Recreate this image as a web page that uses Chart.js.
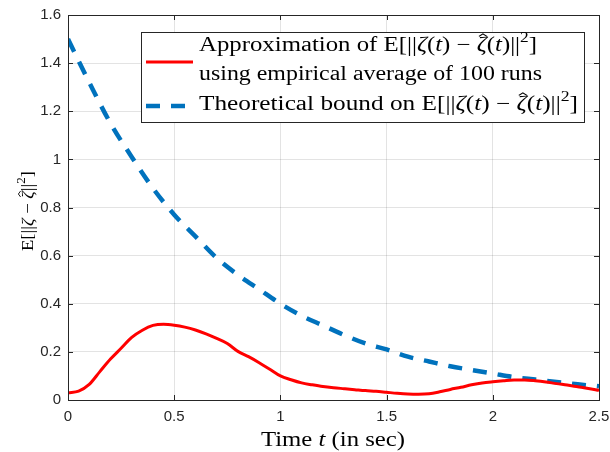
<!DOCTYPE html>
<html>
<head>
<meta charset="utf-8">
<script src="https://cdn.jsdelivr.net/npm/chart.js@4.4.0/dist/chart.umd.min.js"></script>
<style>
  html, body { margin: 0; padding: 0; background: #fff; }
  #wrap { width: 610px; height: 452px; }
</style>
</head>
<body>
<div id="wrap"><canvas id="chart" width="610" height="452"></canvas></div>
<script>
// empirical average of 100 runs (red)
const tEmp = [0, 0.05, 0.1, 0.15, 0.2, 0.25, 0.3, 0.35, 0.4, 0.45, 0.5, 0.55, 0.6, 0.65, 0.7,
  0.75, 0.8, 0.85, 0.9, 0.95, 1, 1.05, 1.1, 1.15, 1.2, 1.25, 1.3, 1.35, 1.4, 1.45, 1.5,
  1.55, 1.6, 1.65, 1.7, 1.75, 1.8, 1.85, 1.9, 1.95, 2, 2.05, 2.1, 2.15, 2.2, 2.25, 2.3,
  2.35, 2.4, 2.45, 2.5];
const empValues = [0.030, 0.037, 0.065, 0.118, 0.170, 0.215, 0.260, 0.290, 0.310, 0.315,
  0.311, 0.303, 0.291, 0.275, 0.256, 0.235, 0.202, 0.180, 0.155, 0.128, 0.100, 0.084,
  0.071, 0.063, 0.056, 0.051, 0.047, 0.043, 0.039, 0.036, 0.032, 0.028, 0.025, 0.024,
  0.026, 0.034, 0.044, 0.053, 0.063, 0.071, 0.076, 0.080, 0.083, 0.083, 0.080, 0.075,
  0.068, 0.062, 0.055, 0.048, 0.040];

// theoretical bound (blue dashed)
const tBound = [0, 0.1, 0.2, 0.3, 0.4, 0.5, 0.6, 0.7, 0.8, 0.9, 1, 1.1, 1.2, 1.3, 1.4,
  1.5, 1.6, 1.7, 1.8, 1.9, 2, 2.1, 2.2, 2.3, 2.4, 2.5];
const boundValues = [1.50, 1.32, 1.15, 1.01, 0.88, 0.77, 0.68, 0.59, 0.52, 0.46, 0.40,
  0.35, 0.31, 0.27, 0.235, 0.21, 0.18, 0.16, 0.14, 0.125, 0.11, 0.095, 0.085, 0.075,
  0.065, 0.057];

const xTicks = [0, 0.5, 1, 1.5, 2, 2.5];
const yTicks = [0, 0.2, 0.4, 0.6, 0.8, 1, 1.2, 1.4, 1.6];

const AXIS = '#262626';
const SERIF = '"Liberation Serif", "Times New Roman", serif';
const fmt = v => String(Number(v.toFixed(2)));

// draw a list of text runs (roman / italic / superscript / hat) with a horizontal stretch
function runFont(r, size) {
  const s = r.sup ? size * 0.7 : size;
  return (r.i ? 'italic ' : '') + s + 'px ' + SERIF;
}
function runsWidth(ctx, runs, size) {
  let w = 0;
  runs.forEach(r => { ctx.font = runFont(r, size); w += ctx.measureText(r.t).width; });
  return w;
}
function drawRuns(ctx, runs, size, sx) {
  let cx = 0;
  ctx.textAlign = 'left';
  ctx.textBaseline = 'alphabetic';
  runs.forEach(r => {
    ctx.font = runFont(r, size);
    const w = ctx.measureText(r.t).width;
    ctx.save();
    ctx.scale(sx, 1);
    ctx.fillText(r.t, cx, r.sup ? -size * 0.45 : 0);
    if (r.hat) {
      const hx = cx + w * 0.62, hy = -size * 0.86, hw = size * 0.16, hh = size * 0.13;
      ctx.beginPath();
      ctx.moveTo(hx - hw, hy + hh); ctx.lineTo(hx, hy); ctx.lineTo(hx + hw, hy + hh);
      ctx.lineWidth = size * 0.05;
      ctx.strokeStyle = ctx.fillStyle;
      ctx.stroke();
    }
    ctx.restore();
    cx += w;
  });
}

const normLine1 = [{t: 'Approximation of E[||'}, {t: '\u03B6', i: true}, {t: '('}, {t: 't', i: true},
  {t: ') \u2212 '}, {t: '\u03B6', i: true, hat: true}, {t: '('}, {t: 't', i: true}, {t: ')||'},
  {t: '2', sup: true}, {t: ']'}];
const normLine2 = [{t: 'using empirical average of 100 runs'}];
const normLine3 = [{t: 'Theoretical bound on E[||'}, {t: '\u03B6', i: true}, {t: '('}, {t: 't', i: true},
  {t: ') \u2212 '}, {t: '\u03B6', i: true, hat: true}, {t: '('}, {t: 't', i: true}, {t: ')||'},
  {t: '2', sup: true}, {t: ']'}];
const xTitle = [{t: 'Time '}, {t: 't', i: true}, {t: ' (in sec)'}];
const yTitle = [{t: 'E[||'}, {t: '\u03B6', i: true}, {t: ' \u2212 '}, {t: '\u03B6', i: true, hat: true},
  {t: '||'}, {t: '2', sup: true}, {t: ']'}];

const framePlugin = {
  id: 'frame',
  afterDatasetsDraw(chart) {
    const ctx = chart.ctx;
    const a = chart.chartArea;
    const sx = chart.scales.x, sy = chart.scales.y;
    ctx.save();
    ctx.strokeStyle = AXIS;
    ctx.lineWidth = 1;
    ctx.strokeRect(Math.round(a.left) + 0.5, Math.round(a.top) + 0.5,
      Math.round(a.right - a.left), Math.round(a.bottom - a.top));
    const tl = 5;
    ctx.beginPath();
    xTicks.forEach(v => {
      const px = Math.round(sx.getPixelForValue(v)) + 0.5;
      ctx.moveTo(px, a.bottom); ctx.lineTo(px, a.bottom - tl);
      ctx.moveTo(px, a.top); ctx.lineTo(px, a.top + tl);
    });
    yTicks.forEach(v => {
      const py = Math.round(sy.getPixelForValue(v)) + 0.5;
      ctx.moveTo(a.left, py); ctx.lineTo(a.left + tl, py);
      ctx.moveTo(a.right, py); ctx.lineTo(a.right - tl, py);
    });
    ctx.stroke();
    ctx.restore();
  },
  afterDraw(chart) {
    const ctx = chart.ctx;
    ctx.save();
    const base = 20;

    // legend box
    ctx.fillStyle = '#fff';
    ctx.fillRect(141, 32, 443, 90);
    ctx.strokeStyle = AXIS;
    ctx.lineWidth = 1;
    ctx.strokeRect(141.5, 32.5, 443, 90);

    ctx.lineCap = 'butt';
    ctx.strokeStyle = '#ff0000';
    ctx.lineWidth = 3;
    ctx.beginPath(); ctx.moveTo(146, 62); ctx.lineTo(193, 62); ctx.stroke();
    ctx.strokeStyle = '#0072bd';
    ctx.lineWidth = 4.5;
    ctx.setLineDash([14, 11]);
    ctx.beginPath(); ctx.moveTo(146, 106); ctx.lineTo(193, 106); ctx.stroke();
    ctx.setLineDash([]);

    // each line stretched to the width the LaTeX text takes in the picture
    ctx.fillStyle = '#000';
    [[normLine1, 51, 338], [normLine2, 80, 343], [normLine3, 110, 379]].forEach(([runs, by, tw]) => {
      const st = tw / runsWidth(ctx, runs, base);
      ctx.save(); ctx.translate(199, by); drawRuns(ctx, runs, base, st); ctx.restore();
    });

    // x axis title
    const xs = 21;
    const xst = 144 / runsWidth(ctx, xTitle, xs);
    ctx.save(); ctx.translate(333 - 72, 446); drawRuns(ctx, xTitle, xs, xst); ctx.restore();

    // y axis title
    const ys = 17;
    const yst = 80 / runsWidth(ctx, yTitle, ys);
    ctx.save(); ctx.translate(33, 211); ctx.rotate(-Math.PI / 2);
    ctx.translate(-40, 0); drawRuns(ctx, yTitle, ys, yst); ctx.restore();

    ctx.restore();
  }
};

new Chart(document.getElementById('chart'), {
  type: 'line',
  data: {
    datasets: [{
      label: 'Empirical',
      data: tEmp.map((t, i) => ({x: t, y: empValues[i]})),
      borderColor: '#ff0000',
      borderWidth: 3,
      pointRadius: 0,
      cubicInterpolationMode: 'monotone'
    }, {
      label: 'Bound',
      data: tBound.map((t, i) => ({x: t, y: boundValues[i]})),
      borderColor: '#0072bd',
      borderWidth: 4.5,
      borderDash: [14, 11],
      pointRadius: 0,
      cubicInterpolationMode: 'monotone'
    }]
  },
  options: {
    responsive: false,
    animation: false,
    layout: { padding: { top: 15, right: 11, left: 0, bottom: 0 } },
    plugins: { legend: { display: false }, tooltip: { enabled: false } },
    scales: {
      x: {
        type: 'linear', min: 0, max: 2.5,
        afterBuildTicks: s => { s.ticks = xTicks.map(v => ({value: v})); },
        afterFit: s => { s.height = 52; s.paddingLeft = 0; s.paddingRight = 0; },
        grid: { color: 'rgba(38,38,38,0.13)', drawTicks: false },
        border: { display: false },
        ticks: { color: AXIS, padding: 8, maxRotation: 0, callback: fmt,
          font: { family: '"Liberation Sans", Arial, sans-serif', size: 15 } }
      },
      y: {
        min: 0, max: 1.6,
        afterBuildTicks: s => { s.ticks = yTicks.map(v => ({value: v})); },
        afterFit: s => { s.width = 68; s.paddingTop = 0; s.paddingBottom = 0; },
        grid: { color: 'rgba(38,38,38,0.13)', drawTicks: false },
        border: { display: false },
        ticks: { color: AXIS, padding: 7, callback: fmt,
          font: { family: '"Liberation Sans", Arial, sans-serif', size: 15 } }
      }
    }
  },
  plugins: [framePlugin]
});
</script>
</body>
</html>
